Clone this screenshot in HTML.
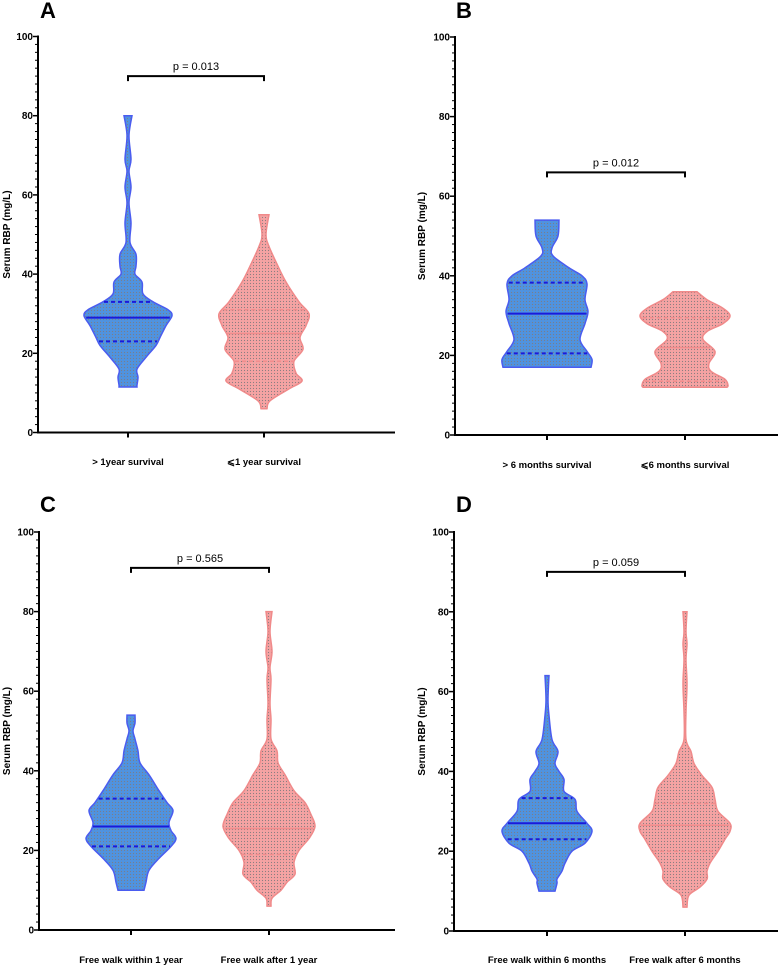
<!DOCTYPE html>
<html><head><meta charset="utf-8"><style>
body{margin:0;background:#fff;}
svg{display:block;font-family:"Liberation Sans",sans-serif;}
</style></head><body>
<svg id="chart" width="778" height="966">
<defs>
<pattern id="dotsB" width="3" height="3" patternUnits="userSpaceOnUse"><rect width="3" height="3" fill="#4f93e0"/><circle cx="1.5" cy="1.5" r="0.6" fill="#7a7f8a"/></pattern>
<pattern id="dotsR" width="3" height="3" patternUnits="userSpaceOnUse"><rect width="3" height="3" fill="#f5a3a3"/><circle cx="1.5" cy="1.5" r="0.6" fill="#8a7d80"/></pattern>
</defs>
</svg>
<script>
// Panel data
const panelLetters = ["A","B","C","D"];
const pValues = ["p = 0.013","p = 0.012","p = 0.565","p = 0.059"];
const bracketLevels = [90, 66, 91, 90];
const categoriesA = ["> 1year survival","\u2a7d1 year survival"];
const categoriesB = [">  6 months survival","\u2a7d6 months survival"];
const categoriesC = ["Free walk within 1 year","Free walk after 1 year"];
const categoriesD = ["Free walk within 6 months","Free walk after 6 months"];
const yTicks = [0,20,40,60,80,100];
// violin profiles: values and density (half-width)
const aBlueVals = [80,75,69,66,62,58,53,48,45,42,40,38,35,33,31,29.5,27,24,22,19,16,14,12,11.5];
const aBlueDens = [4,1,3,1,3,1,3,2,8,8,7,14,15,25,40,44,38,32,28,18,9,10,9,9];
const aRedVals = [55,50,47,42,38,33,30,27,24,21,18,15,13,11,8,6];
const aRedDens = [5,2,5,14,22,35,45,42,36,39,30,32,38,25,6,3];
const bBlueVals = [54,50,47,45,42,40,38,34,31,28,24,21,19,17];
const bBlueDens = [12,11,5,6,22,35,40,38,41,38,33,40,45,44];
const bRedVals = [36,34,32,30,28,26,24,21,18,16,14,12.5,12];
const bRedDens = [12,22,37,45,38,22,18,30,24,26,40,43,42];
const cBlueVals = [54,52,50,48,45,42,39,35,32,30,27,25,23,21,18,15,12,10];
const cBlueDens = [4,4,2,4,7,9,18,28,36,42,38,40,45,40,28,18,15,13];
const cRedVals = [80,75,70,66,63,57,53,48,45,42,39,35,32,29,26,23,20,17,14,12,10,8,6];
const cRedDens = [3,1,3,1,2,1,2,2,8,9,16,25,36,42,46,40,30,25,26,18,12,3,2];
const dBlueVals = [64,58,54,48,45,42,40,38,35,33,30,27,25,22,20,17,15,13,12,10];
const dBlueDens = [2,1,2,5,11,8,12,17,17,28,30,40,45,38,25,18,15,10,10,8];
const dRedVals = [80,75,72,68,62,55,48,45,42,39,36,33,30,27,25,23,20,17,15,13,11,9,6];
const dRedDens = [2,1,2,1,2,1,1,6,9,17,27,30,33,45,45,40,33,25,22,22,15,4,2];
const medians = [[29,25],[30.5,22],[26,25.5],[27,26.5]];
const q1s = [[23,18],[20.5,13.5],[21,19],[23,20]];
const q3s = [[33,31],[38.3,29.5],[33,31.5],[33.3,32]];

const NS="http://www.w3.org/2000/svg";
const svg=document.getElementById('chart');
function mk(tag,attrs,parent){const e=document.createElementNS(NS,tag);for(const k in attrs)e.setAttribute(k,attrs[k]);(parent||svg).appendChild(e);return e;}

const layouts=[
 {ax:38,y0:432.5,y100:36.5,xEnd:395,c:[128,264],lblY:465,letterX:40,letterY:18,titleX:10,cats:categoriesA,vals:[[aBlueVals,aBlueDens],[aRedVals,aRedDens]]},
 {ax:455,y0:435,y100:37,xEnd:778,c:[547,685],lblY:468,letterX:456,letterY:18,titleX:425,cats:categoriesB,vals:[[bBlueVals,bBlueDens],[bRedVals,bRedDens]]},
 {ax:39,y0:930,y100:532,xEnd:395,c:[131,269],lblY:963,letterX:40,letterY:512,titleX:10,cats:categoriesC,vals:[[cBlueVals,cBlueDens],[cRedVals,cRedDens]]},
 {ax:454,y0:931,y100:532,xEnd:778,c:[547,685],lblY:963,letterX:456,letterY:512,titleX:425,cats:categoriesD,vals:[[dBlueVals,dBlueDens],[dRedVals,dRedDens]]}
];
const styles=[{fill:"url(#dotsB)",stroke:"#4a5cf0",line:"#1a1adc",lw:2},{fill:"url(#dotsR)",stroke:"#f08a8a",line:"#f28c8c",lw:1.5}];

function smoothPath(pts){
  let d="M"+pts[0][0]+","+pts[0][1];
  for(let i=0;i<pts.length-1;i++){
    const p0=pts[Math.max(0,i-1)],p1=pts[i],p2=pts[i+1],p3=pts[Math.min(pts.length-1,i+2)];
    const c1=[p1[0]+(p2[0]-p0[0])/6,p1[1]+(p2[1]-p0[1])/6];
    const c2=[p2[0]-(p3[0]-p1[0])/6,p2[1]-(p3[1]-p1[1])/6];
    d+=" C"+c1[0].toFixed(1)+","+c1[1].toFixed(1)+" "+c2[0].toFixed(1)+","+c2[1].toFixed(1)+" "+p2[0].toFixed(1)+","+p2[1].toFixed(1);
  }
  return d;
}
function halfAt(vals,dens,v){
  for(let i=0;i<vals.length-1;i++){const a=vals[i],b=vals[i+1];if(v<=a&&v>=b){const t=(a-v)/(a-b||1);return dens[i]+(dens[i+1]-dens[i])*t;}}
  return dens[dens.length-1];
}

layouts.forEach((L,pi)=>{
  const g=mk('g',{});
  
  
  const y=v=>L.y0-(L.y0-L.y100)*v/100;
  const lt=mk('text',{x:L.letterX,y:L.letterY,'font-size':22,'font-weight':'bold'},g);lt.textContent=panelLetters[pi];
  
  
  L.vals.forEach((vd,si)=>{
    const [vals,dens]=vd,cx=L.c[si],st=styles[si];
    const right=vals.map((v,i)=>[cx+dens[i],y(v)]);
    const left=vals.map((v,i)=>[cx-dens[i],y(v)]).reverse();
    let d=smoothPath(right);
    d+=" L"+left[0][0].toFixed(1)+","+left[0][1].toFixed(1);
    d+=smoothPath(left).replace(/^M[^ C]+/,"");
    d+=" Z";
    const p=mk('path',{d:d,fill:st.fill,stroke:st.stroke,'stroke-width':1.5},g);
    
    
    const lines=[[medians[pi][si],null],[q1s[pi][si],"4,3"],[q3s[pi][si],"4,3"]];
    lines.forEach(([v,dash])=>{
      const h=halfAt(vals,dens,v)-1;
      const ln=mk('line',{x1:cx-h,x2:cx+h,y1:y(v),y2:y(v),stroke:st.line,'stroke-width':st.lw},g);
      if(dash)ln.setAttribute('stroke-dasharray',dash);
      
      
    });
  });
  const ya=mk('line',{x1:L.ax,x2:L.ax,y1:L.y100-1,y2:L.y0+1,stroke:'#000','stroke-width':2},g);
  
  
  const xa=mk('line',{x1:L.ax-1,x2:L.xEnd,y1:L.y0,y2:L.y0,stroke:'#000','stroke-width':2},g);
  
  
  for(let v=0;v<=100;v+=2){
    const major=v%20===0;
    mk('line',{x1:L.ax-(major?5:3),x2:L.ax,y1:y(v),y2:y(v),stroke:'#000','stroke-width':major?1.5:1},g);
  }
  yTicks.forEach(v=>{
    const t=mk('text',{x:L.ax-5,y:y(v)+3.5,'font-size':10,'font-weight':'bold','text-anchor':'end'},g);
    t.textContent=v;
    
    
  });
  L.c.forEach((cx,i)=>{
    mk('line',{x1:cx,x2:cx,y1:L.y0,y2:L.y0+5,stroke:'#000','stroke-width':2},g);
    const t=mk('text',{x:cx,y:L.lblY,'font-size':9.5,'font-weight':'bold','text-anchor':'middle'},g);
    t.textContent=L.cats[i];
    
    
  });
  const tt=mk('text',{x:L.titleX,y:(L.y0+L.y100)/2,'font-size':10,'font-weight':'bold','text-anchor':'middle',transform:'rotate(-90 '+L.titleX+' '+(L.y0+L.y100)/2+')'},g);
  tt.textContent="Serum RBP (mg/L)";
  
  
  const by=y(bracketLevels[pi]);
  const br=mk('path',{d:'M'+L.c[0]+','+(by+5)+' V'+by+' H'+L.c[1]+' V'+(by+5),fill:'none',stroke:'#000','stroke-width':2},g);
  
  
  const pt=mk('text',{x:(L.c[0]+L.c[1])/2,y:by-6,'font-size':11,'text-anchor':'middle'},g);
  pt.textContent=pValues[pi];
  
  
});
</script>
</body></html>
